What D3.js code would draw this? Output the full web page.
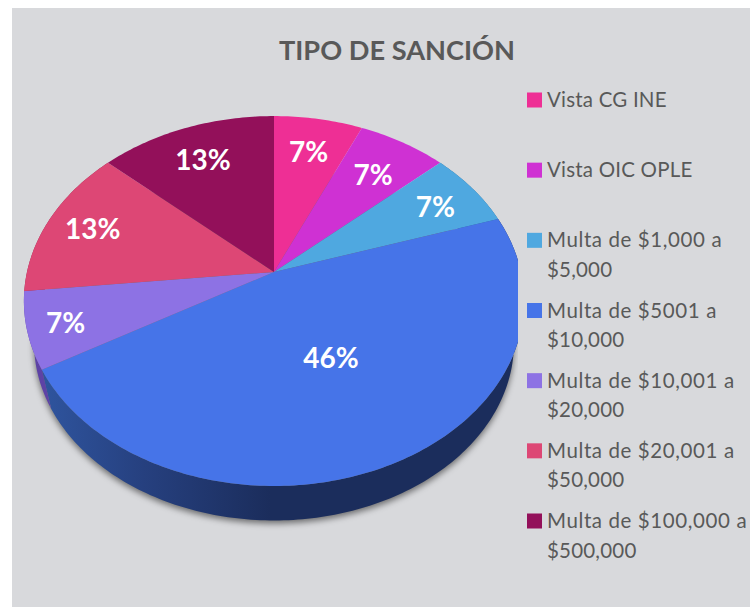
<!DOCTYPE html>
<html><head><meta charset="utf-8">
<script src="https://cdn.jsdelivr.net/npm/d3@7"></script>
<style>html,body{margin:0;padding:0;background:#fff}svg{display:block}</style>
</head><body><svg id="c" width="753" height="607"></svg>
<script>
const title = "TIPO DE SANCIÓN";
const categories = ["Vista CG INE","Vista OIC OPLE","Multa de $1,000 a $5,000","Multa de $5001 a $10,000","Multa de $10,001 a $20,000","Multa de $20,001 a $50,000","Multa de $100,000 a $500,000"];
const legendLines = [["Vista CG INE"],["Vista OIC OPLE"],["Multa de $1,000 a","$5,000"],["Multa de $5001 a","$10,000"],["Multa de $10,001 a","$20,000"],["Multa de $20,001 a","$50,000"],["Multa de $100,000 a","$500,000"]];
// slice shares as measured from the slice angles in the picture
const shares = [6.67,6.67,6.67,46.67,6.67,13.33,13.33];
// percentages as printed on the slices
const printedPercent = [7,7,7,46,7,13,13];
const colors = ["#ee2f95","#cf31d3","#4fa8e0","#4674e8","#8d72e4","#dd4775","#93105a"];

const svg = d3.select("#c");
const defs = svg.append("defs");
defs.append("filter").attr("id","blur").attr("x","-10%").attr("y","-10%").attr("width","120%").attr("height","120%")
  .append("feGaussianBlur").attr("stdDeviation",3);
defs.append("clipPath").attr("id","pieClip").append("rect").attr("x",0).attr("y",0).attr("width",518).attr("height",607);
const grad = defs.append("linearGradient").attr("id","wallBlue").attr("gradientUnits","userSpaceOnUse")
  .attr("x1",40).attr("x2",270).attr("y1",0).attr("y2",0);
grad.append("stop").attr("offset",0).attr("stop-color","#2f559f");
grad.append("stop").attr("offset",0.45).attr("stop-color","#26407f");
grad.append("stop").attr("offset",1).attr("stop-color","#1b2d5c");

svg.append("rect").attr("x",12).attr("y",8).attr("width",738).attr("height",599).attr("fill","#d8d9dc");

// perspective projection of the pie disc
const k = -0.157;
const discs = {
  top:{x0:274,y0:272,A:180.4,B:247},
  bottom:{x0:274,y0:315,A:173.2,B:237}
};
function project(angle, r, disc){
  const X = r*Math.sin(angle), Y = -r*Math.cos(angle), w = 1+k*Y;
  return [disc.x0+disc.B*X/w, disc.y0+disc.A*Y/w];
}
const line = d3.line();
function arcPts(a0,a1,disc){
  const n = Math.max(2,Math.ceil((a1-a0)*60));
  return d3.range(n+1).map(i=>project(a0+(a1-a0)*i/n,1,disc));
}
const arcs = d3.pie().sort(null)(shares);
const pie = svg.append("g").attr("clip-path","url(#pieClip)");

// soft shadow under the pie
pie.append("path")
  .attr("d",line(arcPts(0,2*Math.PI,discs.bottom))+"Z")
  .attr("transform","translate(0,3)")
  .attr("fill","#000").attr("fill-opacity",0.5).attr("filter","url(#blur)");

// side wall
const wallColor = {3:"url(#wallBlue)",4:"#5d42a6",5:"#8f2c4d",2:"#2f6f99"};
pie.selectAll("path.wall").data(arcs).join("path").attr("class","wall")
  .attr("d",d=>line(arcPts(d.startAngle,d.endAngle,discs.top).concat(arcPts(d.startAngle,d.endAngle,discs.bottom).reverse()))+"Z")
  .attr("fill",(d,i)=>wallColor[i]||"#333")
  .attr("opacity",(d,i)=>wallColor[i]?1:0);

// top face
pie.selectAll("path.slice").data(arcs).join("path").attr("class","slice")
  .attr("d",d=>line([[discs.top.x0,discs.top.y0]].concat(arcPts(d.startAngle,d.endAngle,discs.top)))+"Z")
  .attr("fill",(d,i)=>colors[i]);

// slice labels
const labelR = [0.75,0.73,0.78,0.5,0.85,0.82,0.75];
const labelNudge = [[0,-2],[2,-1],[4,0],[3,-4],[0,1],[4,0],[-3,-1]];
svg.selectAll("text.pct").data(arcs).join("text").attr("class","pct")
  .each(function(d,i){
    const p = project((d.startAngle+d.endAngle)/2,labelR[i],discs.top);
    d3.select(this).attr("x",p[0]+labelNudge[i][0]).attr("y",p[1]+labelNudge[i][1]);
  })
  .attr("text-anchor","middle").attr("dominant-baseline","central")
  .attr("font-family","Lato").attr("font-weight",700).attr("font-size",28).attr("fill","#fff")
  .text((d,i)=>printedPercent[i]+"%");

svg.append("text").attr("x",397).attr("y",60).attr("text-anchor","middle")
  .attr("font-family","Lato").attr("font-weight",700).attr("font-size",27.2).attr("fill","#595959").text(title);

// legend
const legendY = d3.scalePoint().domain(categories).range([100,521]);
const lg = svg.selectAll("g.lg").data(categories).join("g").attr("class","lg")
  .attr("transform",d=>`translate(527,${legendY(d)})`);
lg.append("rect").attr("x",0).attr("y",-7.5).attr("width",15).attr("height",15).attr("fill",(d,i)=>colors[i]);
lg.each(function(d,i){
  d3.select(this).selectAll("text").data(legendLines[i]).join("text")
    .attr("x",20).attr("y",(t,j)=>7+j*29.5)
    .attr("font-family","Lato").attr("font-size",20.5).attr("fill","#595959")
    .attr("letter-spacing",t=>t.startsWith("Multa")?0.6:0.2).text(t=>t);
});
</script></body></html>
